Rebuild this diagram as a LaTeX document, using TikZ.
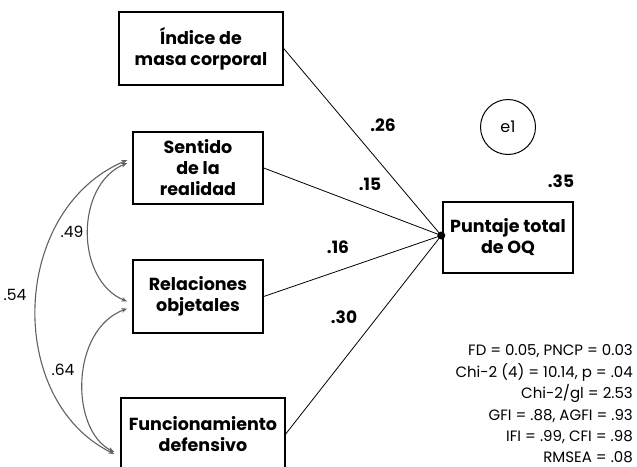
\documentclass[tikz,border=0pt]{standalone}
\usepackage{fontspec}
\setmainfont{Poppins}
\usetikzlibrary{arrows.meta,calc}
\begin{document}
\begin{tikzpicture}[x=1pt,y=-1pt,
  varbox/.style={draw,line width=1.4pt,fill=white,inner sep=0pt,font=\fontsize{17.5}{21}\selectfont\bfseries,align=center},
  path/.style={draw,line width=0.8pt},
  cov/.style={draw=black!62,line width=1.1pt,{Stealth[length=6pt,width=4.5pt]}-{Stealth[length=6pt,width=4.5pt]}},
  wt/.style={font=\fontsize{17}{20}\selectfont\bfseries},
  cl/.style={font=\fontsize{15.5}{18}\selectfont},
  stat/.style={font=\fontsize{15}{18}\selectfont,anchor=base east,inner sep=0pt}]
\useasboundingbox (0,0) rectangle (637,466);
\node[varbox,minimum width=164pt,minimum height=73pt] (imc) at (201,48.5) {Índice de\\masa corporal};
\node[varbox,minimum width=130pt,minimum height=72pt] (sent) at (198,168) {Sentido\\de la\\realidad};
\node[varbox,minimum width=130pt,minimum height=73pt] (rel) at (198,296.5) {Relaciones\\objetales};
\node[varbox,minimum width=164pt,minimum height=72pt] (fun) at (203,434) {Funcionamiento\\defensivo};
\node[varbox,minimum width=130pt,minimum height=71pt] (punt) at (508,237.5) {Puntaje total\\de OQ};
\node[draw,circle,line width=1pt,minimum size=55pt,inner sep=0pt,font=\fontsize{16}{18}\selectfont] (e1) at (508,127) {e1};
\fill (punt.west) ++(-1,-2) coordinate (hub) circle (4pt);
\foreach \n in {imc,sent,rel,fun} \draw[path] (\n.east) -- (hub);
\coordinate (sA) at ($(sent.west)+(-5,-8)$);
\coordinate (sB) at ($(sent.west)+(-5,-5)$);
\coordinate (rA) at ($(rel.west)+(-5,5)$);
\coordinate (rB) at ($(rel.west)+(-5,12)$);
\coordinate (fA) at ($(fun.west)+(-6,18)$);
\coordinate (fB) at ($(fun.west)+(-6,20)$);
\draw[cov] (sA) .. controls (10,210) and (5,400) .. (fB);
\draw[cov] (sB) .. controls (75,185) and (75,280) .. (rA);
\draw[cov] (rB) .. controls (70,330) and (70,430) .. (fA);
\node[cl] (l49) at (72,232) {.49};
\node[cl] (l54) at (15,295) {.54};
\node[cl] (l64) at (63,370) {.64};
\node[wt] (w26) at (383,125) {.26};
\node[wt] (w15) at (370,184) {.15};
\node[wt] (w16) at (338,247) {.16};
\node[wt] (w30) at (344,317) {.30};
\node[wt] (w35) at (561,181) {.35};
\node[stat] (s1) at (633,355) {FD = 0.05, PNCP = 0.03};
\node[stat] (s2) at (633,377) {Chi-2 (4) = 10.14, p = .04};
\node[stat] (s3) at (633,398.5) {Chi-2/gl = 2.53};
\node[stat] (s4) at (633,420) {GFI = .88, AGFI = .93};
\node[stat] (s5) at (633,441) {IFI = .99, CFI = .98};
\node[stat] (s6) at (633,462) {RMSEA = .08};
\end{tikzpicture}
\end{document}
